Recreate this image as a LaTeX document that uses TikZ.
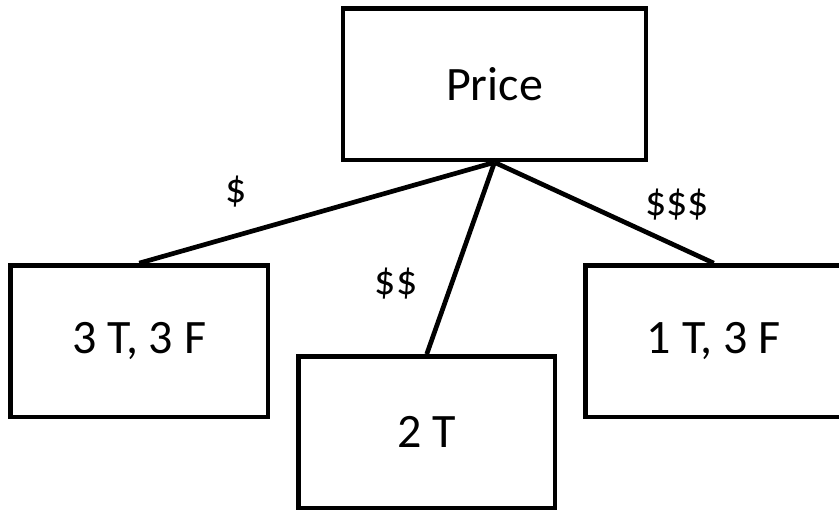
\documentclass[tikz,border=0pt]{standalone}
\usepackage{fontspec}
\setmainfont{Carlito}
\begin{document}
\begin{tikzpicture}[x=1pt,y=-1pt,
  box/.style={draw=black,line width=4.7pt,inner sep=0pt,fill=white,
    font=\fontsize{48}{52}\selectfont},
  lbl/.style={inner sep=0pt,font=\fontsize{42}{46}\selectfont},
  edge/.style={draw=black,line width=4.7pt}]
\useasboundingbox (0,0) rectangle (839,510);
\node[box,minimum width=303pt,minimum height=151.5pt] (price) at (494.5,84.25) {Price};
\node[box,minimum width=257.5pt,minimum height=151.5pt] (left) at (139.25,341.25) {3 T, 3 F};
\node[box,minimum width=256.5pt,minimum height=151.5pt] (mid) at (426.75,432.25) {2 T};
\node[box,minimum width=256.5pt,minimum height=151.5pt] (right) at (713.75,341.25) {1 T, 3 F};
\draw[edge] (price.south) -- (left.north);
\draw[edge] (price.south) -- (mid.north);
\draw[edge] (price.south) -- (right.north);
\node[lbl] (l1) at (236,192) {\$};
\node[lbl] (l2) at (396,284) {\$\$};
\node[lbl] (l3) at (677,205) {\$\$\$};
\end{tikzpicture}
\end{document}
